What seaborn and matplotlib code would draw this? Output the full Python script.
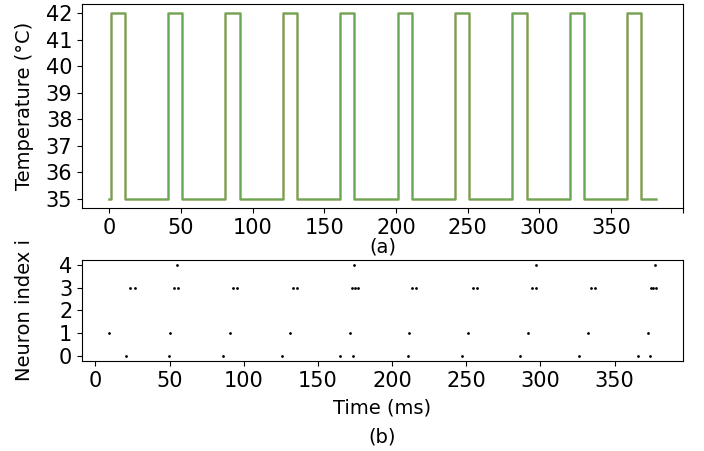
import matplotlib
matplotlib.use("Agg")
import matplotlib.pyplot as plt
import seaborn as sns
import pandas as pd

# Temperature protocol: breakpoints (ms) and temperature held from each breakpoint
step_times = [0, 1, 11, 41, 51, 81, 91, 121, 131, 161, 171, 201, 211,
              241, 251, 281, 291, 321, 331, 361, 371, 381]
step_temps = [35, 42, 35, 42, 35, 42, 35, 42, 35, 42, 35, 42, 35,
              42, 35, 42, 35, 42, 35, 42, 35, 35]

# Spike raster (ms) per neuron
spikes_n0 = [20.7, 49.4, 86.3, 125.6, 165.2, 173.5, 210.4, 247.0, 286.1, 325.7, 365.7, 374.0]
spikes_n1 = [9.4, 50.4, 90.8, 131.0, 171.3, 211.5, 251.5, 291.8, 332.0, 372.4]
spikes_n2 = []
spikes_n3 = [23.4, 27.0, 52.8, 55.5, 92.9, 95.6, 133.0, 135.7, 173.1, 174.9, 176.7,
             213.6, 216.3, 254.4, 257.1, 294.0, 296.7, 334.0, 336.7, 374.2, 375.8, 377.6]
spikes_n4 = [55.1, 174.6, 296.9, 377.4]

top_ticks = [0, 50, 100, 150, 200, 250, 300, 350, 400]
top_tick_labels = ["0", "50", "100", "150", "200", "250", "300", "350", ""]
temp_ticks = [35, 36, 37, 38, 39, 40, 41, 42]
neuron_ticks = [0, 1, 2, 3, 4]

plt.rcParams['font.family'] = ['DejaVu Sans']
plt.rcParams['font.size'] = 14

temp_df = pd.DataFrame({"t": step_times, "T": step_temps})
rows = []
for idx, lst in enumerate([spikes_n0, spikes_n1, spikes_n2, spikes_n3, spikes_n4]):
    for t in lst:
        rows.append((t, idx))
spk_df = pd.DataFrame(rows, columns=["t", "i"])

fig = plt.figure(figsize=(7.04, 4.51), dpi=100)
ax1 = fig.add_axes([0.1165, 0.5388, 0.8535, 0.4522])
ax2 = fig.add_axes([0.1165, 0.1996, 0.8535, 0.2239])

sns.lineplot(data=temp_df, x="t", y="T", ax=ax1, drawstyle="steps-post",
             color="#86a25c", lw=1.8, estimator=None)
sns.lineplot(data=temp_df, x="t", y="T", ax=ax1, drawstyle="steps-post",
             color="#4caf50", lw=0.6, alpha=0.6, estimator=None)
ax1.set_xticks(top_ticks)
ax1.set_xticklabels(top_tick_labels)
ax1.set_xlim(-19.05, 400.05)
ax1.set_yticks(temp_ticks)
ax1.set_xlabel("(a)", fontsize=14)
ax1.xaxis.set_label_coords(0.5, -0.145)
ax1.set_ylabel("Temperature (°C)", fontsize=14)

sns.scatterplot(data=spk_df, x="t", y="i", ax=ax2, color="black", s=4,
                linewidth=0, marker="o")
ax2.set_yticks(neuron_ticks)
ax2.set_xlabel("Time (ms)", fontsize=14)
ax2.xaxis.set_label_coords(0.5, -0.37)
ax2.set_ylabel("Neuron index i", fontsize=14)
fig.text(0.543, 0.031, "(b)", ha="center", va="center", fontsize=14)

for ax in (ax1, ax2):
    ax.tick_params(labelsize=15)
    ax.yaxis.set_label_coords(-0.08, 0.5)

fig.savefig("out.png", dpi=100)
